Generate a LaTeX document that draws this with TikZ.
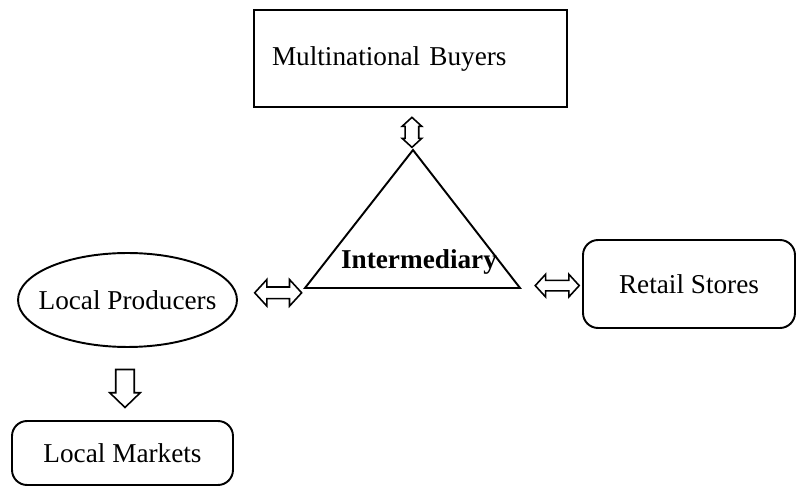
\documentclass[tikz,border=0pt]{standalone}
\usepackage{fontspec}
\setmainfont{Liberation Serif}
\usetikzlibrary{shapes.geometric,shapes.arrows}

\begin{document}
\begin{tikzpicture}[x=0.02cm, y=-0.02cm, line width=1.1pt,
    font=\fontsize{15.5}{18}\selectfont,
    box/.style={draw, rounded corners=0.3cm, inner sep=0pt},
    dblarrow/.style={draw, double arrow, inner xsep=0pt, line width=0.9pt,
      double arrow tip angle=95}]
  \useasboundingbox (0,0) rectangle (796,486);
  \node [draw, minimum width=6.26cm, minimum height=1.94cm, text width=5.54cm,
    inner xsep=0.36cm, inner ysep=0pt, align=left] (buyers) at (410.5,58.5)
    {Multinational Buyers};
  % triangle
  \coordinate (top) at (413,150);
  \coordinate (tl) at (305,288);
  \coordinate (tr) at (520,288);
  \draw (top) -- (tl) -- (tr) -- cycle;
  \node [font=\fontsize{15.5}{18}\selectfont\bfseries] (inter) at (419,262) {Intermediary};
  \node [draw, ellipse, minimum width=4.38cm, minimum height=1.88cm, inner xsep=-0.5cm,
    inner ysep=0pt] (prod) at (127.5,300) {Local Producers};
  \node [box, minimum width=4.24cm, minimum height=1.76cm] (retail) at (689,284) {Retail Stores};
  \node [box, minimum width=4.42cm, minimum height=1.28cm] (markets) at (122.5,453) {Local Markets};
  % arrows
  \path (buyers.south) -- node [pos=0.58, dblarrow, rotate=90, minimum height=0.6cm,
    inner ysep=0.12cm, double arrow head extend=0.06cm] (a1) {} (top);
  \path (prod.east) -- node [pos=0.6, dblarrow, minimum height=0.94cm,
    inner ysep=0.1cm, double arrow head extend=0.15cm] (a2) {} (tl);
  \path (tr) -- node [pos=0.6, dblarrow, minimum height=0.88cm,
    inner ysep=0.09cm, double arrow head extend=0.12cm] (a3) {} (retail.west);
  \path (prod.south) -- node [draw, single arrow, rotate=-90, inner xsep=0pt,
    inner ysep=0.17cm, line width=0.9pt, minimum height=0.76cm,
    single arrow head extend=0.12cm, single arrow tip angle=92] (a4) {} (markets.north);
\end{tikzpicture}
\end{document}
